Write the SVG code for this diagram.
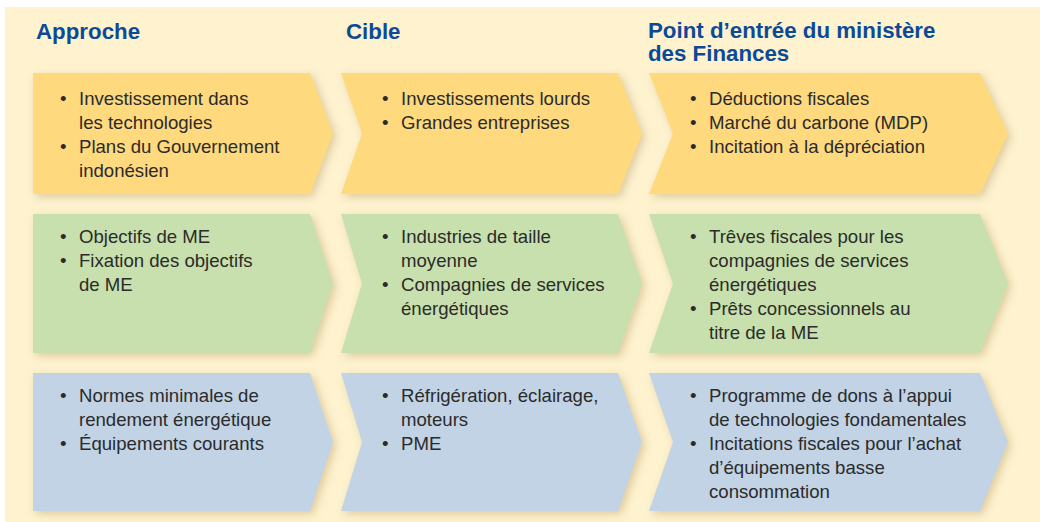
<svg xmlns="http://www.w3.org/2000/svg" width="1040" height="522" viewBox="0 0 1040 522">
  <defs>
    <filter id="shadow" x="-5%" y="-10%" width="115%" height="130%">
      <feDropShadow dx="3" dy="3" stdDeviation="4" flood-color="#b49a63" flood-opacity="0.45"/>
    </filter>
    <style>
      .head { font-family: "Liberation Sans", Arial, sans-serif; font-weight: bold; font-size: 22.3px; fill: #0b4a98; }
      .body { font-family: "Liberation Sans", Arial, sans-serif; font-size: 18.6px; fill: #2b2b2b; }
      .yellow { fill: #ffd97e; }
      .green { fill: #c7e0ad; }
      .blue { fill: #c1d3e5; }
      .chev { filter: url(#shadow); }
    </style>
  </defs>

  <!-- page -->
  <rect x="0" y="0" width="1040" height="522" fill="#ffffff"/>
  <rect x="5" y="7" width="1035" height="515" fill="#fef2cf"/>

  <!-- column headings -->
  <g id="headings">
    <text class="head" x="36" y="39">Approche</text>
    <text class="head" x="346" y="39">Cible</text>
    <text class="head" x="648" y="38">Point d’entrée du ministère</text>
    <text class="head" x="648" y="61">des Finances</text>
  </g>

  <!-- row 1 -->
  <g id="r1c1">
    <polygon class="chev yellow" points="33,73 310,73 333,133.5 310,194 33,194"/>
    <g class="body">
      <text x="60" y="105">•</text><text x="79" y="105">Investissement dans</text>
      <text x="79" y="129">les technologies</text>
      <text x="60" y="153">•</text><text x="79" y="153">Plans du Gouvernement</text>
      <text x="79" y="177">indonésien</text>
    </g>
  </g>
  <g id="r1c2">
    <polygon class="chev yellow" points="341,73 618,73 642,133.5 618,194 341,194 362,133.5"/>
    <g class="body">
      <text x="382" y="105">•</text><text x="401" y="105">Investissements lourds</text>
      <text x="382" y="129">•</text><text x="401" y="129">Grandes entreprises</text>
    </g>
  </g>
  <g id="r1c3">
    <polygon class="chev yellow" points="649,73 980,73 1008,133.5 980,194 649,194 673,133.5"/>
    <g class="body">
      <text x="690" y="105">•</text><text x="709" y="105">Déductions fiscales</text>
      <text x="690" y="129">•</text><text x="709" y="129">Marché du carbone (MDP)</text>
      <text x="690" y="153">•</text><text x="709" y="153">Incitation à la dépréciation</text>
    </g>
  </g>

  <!-- row 2 -->
  <g id="r2c1">
    <polygon class="chev green" points="33,214 310,214 333,283.5 310,353 33,353"/>
    <g class="body">
      <text x="60" y="243">•</text><text x="79" y="243">Objectifs de ME</text>
      <text x="60" y="267">•</text><text x="79" y="267">Fixation des objectifs</text>
      <text x="79" y="291">de ME</text>
    </g>
  </g>
  <g id="r2c2">
    <polygon class="chev green" points="341,214 618,214 642,283.5 618,353 341,353 362,283.5"/>
    <g class="body">
      <text x="382" y="243">•</text><text x="401" y="243">Industries de taille</text>
      <text x="401" y="267">moyenne</text>
      <text x="382" y="291">•</text><text x="401" y="291">Compagnies de services</text>
      <text x="401" y="315">énergétiques</text>
    </g>
  </g>
  <g id="r2c3">
    <polygon class="chev green" points="649,214 980,214 1008,283.5 980,353 649,353 673,283.5"/>
    <g class="body">
      <text x="690" y="243">•</text><text x="709" y="243">Trêves fiscales pour les</text>
      <text x="709" y="267">compagnies de services</text>
      <text x="709" y="291">énergétiques</text>
      <text x="690" y="315">•</text><text x="709" y="315">Prêts concessionnels au</text>
      <text x="709" y="339">titre de la ME</text>
    </g>
  </g>

  <!-- row 3 -->
  <g id="r3c1">
    <polygon class="chev blue" points="33,373 310,373 333,442 310,511 33,511"/>
    <g class="body">
      <text x="60" y="402">•</text><text x="79" y="402">Normes minimales de</text>
      <text x="79" y="426">rendement énergétique</text>
      <text x="60" y="450">•</text><text x="79" y="450">Équipements courants</text>
    </g>
  </g>
  <g id="r3c2">
    <polygon class="chev blue" points="341,373 618,373 642,442 618,511 341,511 362,442"/>
    <g class="body">
      <text x="382" y="402">•</text><text x="401" y="402">Réfrigération, éclairage,</text>
      <text x="401" y="426">moteurs</text>
      <text x="382" y="450">•</text><text x="401" y="450">PME</text>
    </g>
  </g>
  <g id="r3c3">
    <polygon class="chev blue" points="649,373 980,373 1008,442 980,511 649,511 673,442"/>
    <g class="body">
      <text x="690" y="402">•</text><text x="709" y="402">Programme de dons à l’appui</text>
      <text x="709" y="426">de technologies fondamentales</text>
      <text x="690" y="450">•</text><text x="709" y="450">Incitations fiscales pour l’achat</text>
      <text x="709" y="474">d’équipements basse</text>
      <text x="709" y="498">consommation</text>
    </g>
  </g>

  <!-- no connectors: the chevrons themselves carry the flow -->
  <g id="connectors"/>
</svg>
